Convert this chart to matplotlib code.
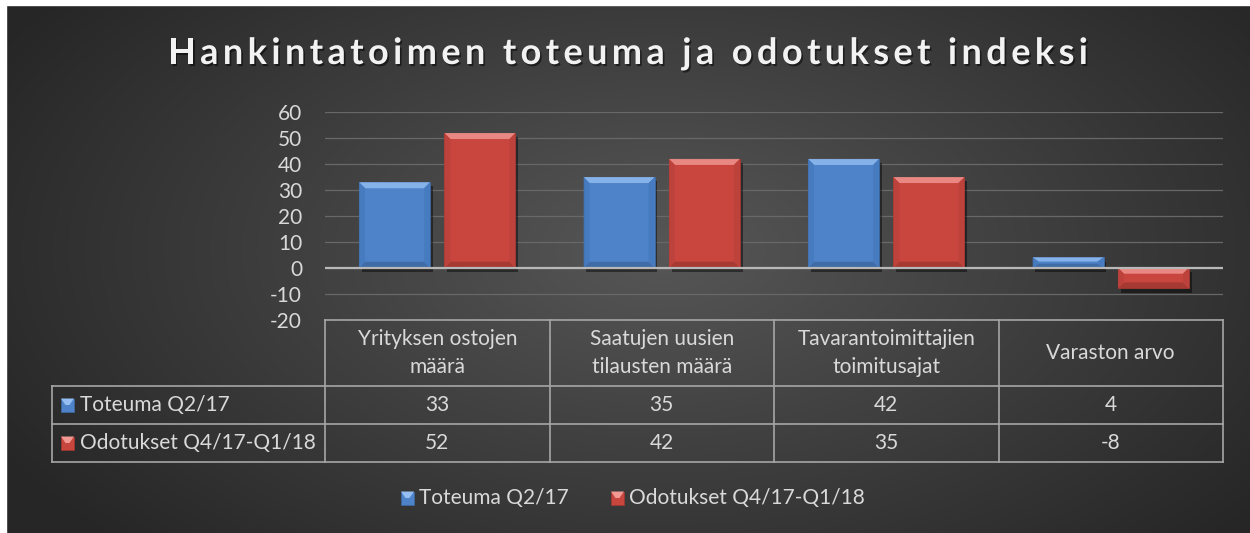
import numpy as np
import matplotlib
matplotlib.use("Agg")
import matplotlib.pyplot as plt
import matplotlib.patheffects as pe
from matplotlib.patches import Polygon, Rectangle
from matplotlib.font_manager import FontProperties

# --- data -------------------------------------------------------------
title = "Hankintatoimen toteuma ja odotukset indeksi"
categories = [
    "Yrityksen ostojen\nmäärä",
    "Saatujen uusien\ntilausten määrä",
    "Tavarantoimittajien\ntoimitusajat",
    "Varaston arvo",
]
series_names = ["Toteuma Q2/17", "Odotukset Q4/17-Q1/18"]
toteuma = [33, 35, 42, 4]
odotukset = [52, 42, 35, -8]
y_ticks = [-20, -10, 0, 10, 20, 30, 40, 50, 60]

# --- style ------------------------------------------------------------
W, H = 1250, 533
FONT = "Lato"
FS = 15
TXT = "#d9d9d9"
LINE = "#a6a6a6"
BLUE = dict(face="#4f83c9", top="#95bff3", side="#4679bd", bottom="#3c679f")
RED = dict(face="#c9463f", top="#f29994", side="#bb423b", bottom="#9e3731")
plt.rcParams["font.family"] = [FONT, "DejaVu Sans"]
plt.rcParams["axes.unicode_minus"] = False

fig = plt.figure(figsize=(W / 100, H / 100), dpi=100)

# background: radial grey gradient, thin white margin top/left
bg = fig.add_axes([0, 0, 1, 1], zorder=0)
yy, xx = np.mgrid[0:H, 0:W]
r = np.sqrt(((xx - 660) / 760) ** 2 + ((yy - 250) / 420) ** 2)
v = 0.34 - 0.19 * np.clip(r, 0, 1)
bg.imshow(np.dstack([v, v, v]), extent=(0, W, H, 0), aspect="auto", interpolation="bilinear")
bg.add_patch(Rectangle((0, 0), W, 5, color="white"))
bg.add_patch(Rectangle((0, 0), 6, H, color="white"))
bg.set_xlim(0, W)
bg.set_ylim(H, 0)
bg.axis("off")

# --- bar chart --------------------------------------------------------
left, right, top, bottom = 325, 1223, 112.3, 319.5
ax = fig.add_axes([left / W, 1 - bottom / H, (right - left) / W, (bottom - top) / H], zorder=1)
ax.patch.set_alpha(0)
x = np.arange(len(categories))
ax.set_xlim(-0.5, len(categories) - 0.5)
ax.set_ylim(-20, 60)
ax.set_yticks(y_ticks)
ax.set_xticks([])
for s in ax.spines.values():
    s.set_visible(False)
ax.tick_params(axis="y", length=0, pad=16.5, labelsize=FS, labelcolor=TXT)
ax.set_axisbelow(True)
ax.yaxis.grid(True, color="#686868", lw=0.9)

bw, off = 0.316, 0.19
shadow = [pe.SimplePatchShadow(offset=(2, -3), alpha=0.45, shadow_rgbFace="black"), pe.Normal()]
ppx = ax.bbox.width / len(categories)
ppy = ax.bbox.height / 80
bev = 6

for vals, sign, c in [(toteuma, -1, BLUE), (odotukset, 1, RED)]:
    bars = ax.bar(x + sign * off, vals, bw, color=c["face"], edgecolor=c["bottom"], lw=0.6,
                  path_effects=shadow, zorder=2)
    for b in bars:
        x0, x1 = b.get_x(), b.get_x() + b.get_width()
        y0, y1 = sorted([b.get_y(), b.get_y() + b.get_height()])
        dx = bev / ppx
        dy = min(bev / ppy, (y1 - y0) / 2.5)
        faces = [
            ([(x0, y1), (x1, y1), (x1 - dx, y1 - dy), (x0 + dx, y1 - dy)], c["top"]),
            ([(x0, y0), (x1, y0), (x1 - dx, y0 + dy), (x0 + dx, y0 + dy)], c["bottom"]),
            ([(x0, y0), (x0, y1), (x0 + dx, y1 - dy), (x0 + dx, y0 + dy)], c["side"]),
            ([(x1, y0), (x1, y1), (x1 - dx, y1 - dy), (x1 - dx, y0 + dy)], c["side"]),
        ]
        for pts, col in faces:
            ax.add_patch(Polygon(pts, closed=True, fc=col, ec="none", alpha=0.8, zorder=2.5))
ax.axhline(0, color="#b8b8b8", lw=1.6, zorder=3)

# --- overlay: title, data table, legend (pixel coordinates) -----------
ov = fig.add_axes([0, 0, 1, 1], zorder=2)
ov.set_xlim(0, W)
ov.set_ylim(H, 0)
ov.axis("off")
ov.patch.set_alpha(0)

# title with letter spacing, drawn character by character
renderer = fig.canvas.get_renderer()
tprop = FontProperties(family=FONT, weight="bold", size=26)
base = renderer.get_text_width_height_descent("xx", tprop, ismath=False)[0]
widths = [renderer.get_text_width_height_descent("x" + ch + "x", tprop, ismath=False)[0] - base
          for ch in title]
t_left, t_right = 168, 1088
gap = (t_right - t_left - sum(widths)) / (len(title) - 1)
tx = t_left
for ch, w in zip(title, widths):
    ov.text(tx, 64, ch, fontproperties=tprop, color="#f2f2f2", ha="left", va="baseline",
            path_effects=[pe.withSimplePatchShadow(offset=(1.2, -1.5), alpha=0.5, shadow_rgbFace="black")])
    tx += w + gap

# table grid
col_edges = left + (right - left) / len(categories) * np.arange(len(categories) + 1)
col_mid = (col_edges[:-1] + col_edges[1:]) / 2
row_top, row_head, row_1, row_2 = 320, 386, 424, 462
label_left = 52
lw_t = 1.2
ov.plot([left, right], [row_top, row_top], color=LINE, lw=lw_t)
for yl in (row_head, row_1, row_2):
    ov.plot([label_left, right], [yl, yl], color=LINE, lw=lw_t)
ov.plot([label_left, label_left], [row_head, row_2], color=LINE, lw=lw_t)
for xe in col_edges:
    ov.plot([xe, xe], [row_top, row_2], color=LINE, lw=lw_t)

for xm, cat in zip(col_mid, categories):
    ov.text(xm, (row_top + row_head) / 2, cat, color=TXT, fontsize=FS, ha="center",
            va="center", linespacing=1.45)


def marker(xm, ym, c, size=13):
    ov.add_patch(Rectangle((xm, ym - size / 2), size, size, fc=c["face"], ec=c["bottom"], lw=0.6))
    ov.add_patch(Polygon([(xm, ym - size / 2), (xm + size, ym - size / 2),
                          (xm + size * 0.65, ym), (xm + size * 0.35, ym)],
                         closed=True, fc=c["top"], ec="none"))


for (y_a, y_b), name, vals, c in [((row_head, row_1), series_names[0], toteuma, BLUE),
                                   ((row_1, row_2), series_names[1], odotukset, RED)]:
    ym = (y_a + y_b) / 2
    marker(61, ym, c)
    ov.text(80, ym, name, color=TXT, fontsize=FS, ha="left", va="center")
    for xm, val in zip(col_mid, vals):
        ov.text(xm, ym, str(val), color=TXT, fontsize=FS, ha="center", va="center")

# legend
leg_y = 498
for xm, name, c in [(401, series_names[0], BLUE), (611, series_names[1], RED)]:
    marker(xm, leg_y, c)
    ov.text(xm + 18, leg_y, name, color=TXT, fontsize=FS, ha="left", va="center")

fig.savefig("out.png", dpi=100)
